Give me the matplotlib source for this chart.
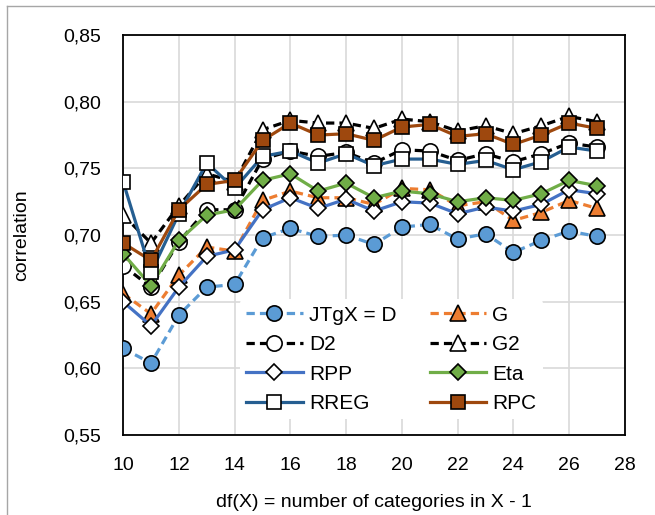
import matplotlib
matplotlib.use("Agg")
import matplotlib.pyplot as plt
from matplotlib import font_manager
from matplotlib.lines import Line2D
from matplotlib.ticker import FuncFormatter, MultipleLocator

# condensed sans if present, plain Liberation Sans otherwise
names = {f.name for f in font_manager.fontManager.ttflist}
FONT = "Liberation Sans Narrow" if "Liberation Sans Narrow" in names else "Liberation Sans"
plt.rcParams["font.family"] = [FONT, "DejaVu Sans"]

df_x = [10, 11, 12, 13, 14, 15, 16, 17, 18, 19, 20, 21, 22, 23, 24, 25, 26, 27]

jtgx = [0.615, 0.604, 0.640, 0.661, 0.663, 0.698, 0.705, 0.699, 0.700,
        0.693, 0.706, 0.708, 0.697, 0.701, 0.687, 0.696, 0.703, 0.699]
g = [0.656, 0.641, 0.670, 0.691, 0.688, 0.726, 0.733, 0.728, 0.728,
     0.723, 0.735, 0.734, 0.722, 0.725, 0.711, 0.717, 0.726, 0.720]
d2 = [0.677, 0.661, 0.695, 0.719, 0.719, 0.757, 0.763, 0.759, 0.762,
      0.754, 0.764, 0.763, 0.756, 0.761, 0.755, 0.761, 0.769, 0.766]
g2 = [0.715, 0.694, 0.722, 0.746, 0.740, 0.779, 0.786, 0.784, 0.784,
      0.780, 0.787, 0.785, 0.778, 0.782, 0.776, 0.782, 0.789, 0.785]
rpp = [0.650, 0.632, 0.661, 0.684, 0.689, 0.719, 0.728, 0.720, 0.727,
       0.718, 0.725, 0.724, 0.716, 0.721, 0.718, 0.723, 0.734, 0.731]
eta = [0.686, 0.662, 0.696, 0.715, 0.719, 0.741, 0.746, 0.733, 0.739,
       0.728, 0.733, 0.731, 0.725, 0.728, 0.726, 0.731, 0.741, 0.737]
rreg = [0.740, 0.672, 0.716, 0.754, 0.735, 0.759, 0.763, 0.754, 0.761,
        0.752, 0.757, 0.757, 0.753, 0.756, 0.749, 0.755, 0.766, 0.763]
rpc = [0.694, 0.681, 0.719, 0.738, 0.741, 0.771, 0.784, 0.775, 0.776,
       0.771, 0.781, 0.783, 0.774, 0.776, 0.768, 0.775, 0.784, 0.780]

# label, values, line colour, dashed?, marker, marker face, marker size
SERIES = [
    ("JTgX = D", jtgx, "#5b9bd5", True, "o", "#5b9bd5", 11),
    ("G", g, "#ed7d31", True, "^", "#ed7d31", 11),
    ("D2", d2, "black", True, "o", "white", 11),
    ("G2", g2, "black", True, "^", "white", 11),
    ("RPP", rpp, "#4472c4", False, "D", "white", 8.5),
    ("Eta", eta, "#70ad47", False, "D", "#70ad47", 8.5),
    ("RREG", rreg, "#255e91", False, "s", "white", 10),
    ("RPC", rpc, "#9e480e", False, "s", "#9e480e", 10),
]

fig = plt.figure(figsize=(6.55, 5.15), dpi=100)
ax = fig.add_axes([0.188, 0.155, 0.766, 0.777])

handles = {}
for i, (lab, vals, col, dashed, mk, mfc, ms) in enumerate(SERIES):
    ln, = ax.plot(df_x, vals, color=col, lw=2.3, marker=mk, ms=ms, mfc=mfc,
                  mec="black", mew=1.2, zorder=3 + i, label=lab)
    if dashed:
        ln.set_dashes((2.6, 1.6))
    handles[lab] = ln

ax.set_xlim(10, 28)
ax.set_ylim(0.55, 0.85)
ax.xaxis.set_major_locator(MultipleLocator(2))
ax.yaxis.set_major_locator(MultipleLocator(0.05))
ax.yaxis.set_major_formatter(FuncFormatter(lambda v, _: f"{v:.2f}".replace(".", ",")))
ax.grid(True, color="#d9d9d9", lw=1.2, zorder=0)
ax.set_axisbelow(True)
ax.tick_params(length=0, labelsize=14, pad=16)
for s in ax.spines.values():
    s.set_linewidth(1.3)
    s.set_color("black")

ax.set_xlabel("df(X) = number of categories in X - 1", fontsize=14, labelpad=14)
ax.set_ylabel("correlation", fontsize=14, labelpad=24)

# matplotlib fills legend columns first, so reorder to read row by row
order = ["JTgX = D", "D2", "RPP", "RREG", "G", "G2", "Eta", "RPC"]
leg = ax.legend([handles[k] for k in order], order, ncol=2, loc="lower left",
                bbox_to_anchor=(0.233, 0.04), fontsize=15, frameon=True,
                facecolor="white", edgecolor="none", framealpha=1,
                handlelength=2.7, handletextpad=0.3, columnspacing=1.6,
                labelspacing=0.5, borderpad=0.3, borderaxespad=0)
leg.set_zorder(20)

# thin frame pieces along the left and top edges of the figure
fig.add_artist(Line2D([0.011, 0.011], [0, 0.988], transform=fig.transFigure,
                      color="#a6a6a6", lw=1))
fig.add_artist(Line2D([0.011, 1], [0.988, 0.988], transform=fig.transFigure,
                      color="#a6a6a6", lw=1))

fig.savefig("out.png", dpi=100)
